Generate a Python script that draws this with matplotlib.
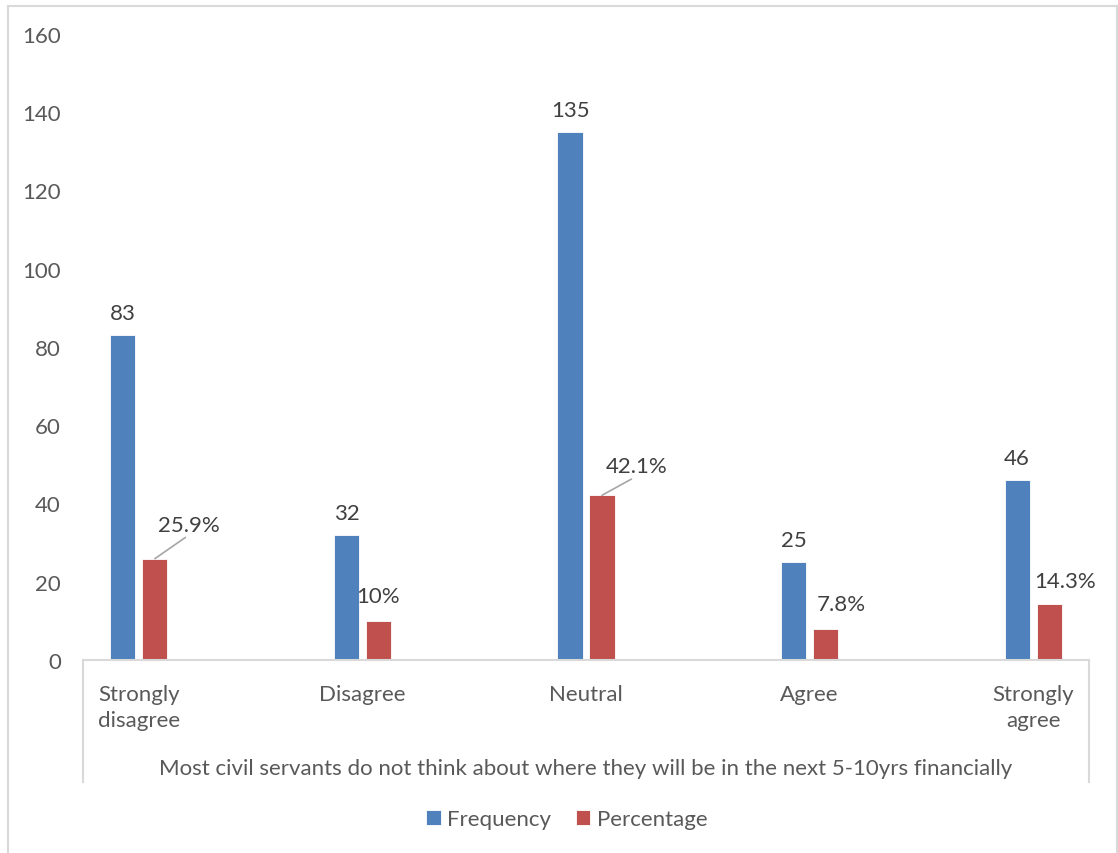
import matplotlib
matplotlib.use("Agg")
import matplotlib.pyplot as plt
from matplotlib.lines import Line2D
import numpy as np

plt.rcParams['font.family'] = ['Lato', 'DejaVu Sans']

categories = ["Strongly\ndisagree", "Disagree", "Neutral", "Agree", "Strongly\nagree"]
frequency = [83, 32, 135, 25, 46]
percentage = [25.9, 10, 42.1, 7.8, 14.3]
percentage_labels = ["25.9%", "10%", "42.1%", "7.8%", "14.3%"]
y_ticks = [0, 20, 40, 60, 80, 100, 120, 140, 160]
group_label = "Most civil servants do not think about where they will be in the next 5-10yrs financially"
series_names = ["Frequency", "Percentage"]

BLUE = "#4f81bd"
RED = "#c0504d"
TXT = "#595959"
DARK = "#404040"
GRID = "#d9d9d9"
FS = 16

W, H = 1118, 854
fig = plt.figure(figsize=(W / 100, H / 100), dpi=100)

# outer chart border (left, top, right; bottom is cut off)
bx0, bx1, by0 = 7.5 / W, 1116.5 / W, 1 - 6.5 / H
for xs, ys in (([bx0, bx0], [0, by0]), ([bx0, bx1], [by0, by0]), ([bx1, bx1], [by0, 0])):
    fig.add_artist(Line2D(xs, ys, transform=fig.transFigure, color=GRID, lw=1.5))

ax = fig.add_axes([83 / W, 1 - 661 / H, (1089 - 83) / W, (661 - 35) / H])
x = np.arange(len(categories))
bw = 0.112
off = 0.0715
b1 = ax.bar(x - off, frequency, bw, color=BLUE, edgecolor="white", linewidth=0.6, label=series_names[0])
b2 = ax.bar(x + off, percentage, bw, color=RED, edgecolor="white", linewidth=0.6, label=series_names[1])

ax.set_xlim(-0.25, 4.25)
ax.set_ylim(0, 160)
ax.set_yticks(y_ticks)
ax.set_yticklabels([str(v) for v in y_ticks], fontsize=FS, color=TXT)
ax.tick_params(axis='y', length=0, pad=16)
ax.set_xticks(x)
ax.set_xticklabels(categories, fontsize=FS, color=TXT, linespacing=1.4)
ax.tick_params(axis='x', length=0, pad=17)
for s in ["top", "right", "left"]:
    ax.spines[s].set_visible(False)
ax.spines["bottom"].set_color(GRID)
ax.spines["bottom"].set_linewidth(1.5)

# category box side lines
yb = -(783 - 661) / (661 - 35)
for xa in (0, 1):
    ax.add_line(Line2D([xa, xa], [0, yb], transform=ax.transAxes, color=GRID, lw=1.5, clip_on=False))
ax.text(0.5, -(769 - 661) / (661 - 35), group_label, transform=ax.transAxes,
        ha='center', va='center', fontsize=FS, color=TXT)

# frequency labels
for xi, v in zip(x, frequency):
    ax.annotate(str(v), (xi - off, v), xytext=(0, 22), textcoords='offset pixels',
                ha='center', va='center', fontsize=FS, color=DARK)

# percentage labels (offsets in pixels, with leader lines for first and third)
pct_offsets = [(34.5, 34), (0, 25), (34.5, 29), (16, 25), (15.5, 23)]
leader = [True, False, True, False, False]
for xi, v, lab, (dx, dy), ld in zip(x, percentage, percentage_labels, pct_offsets, leader):
    if ld:
        ax.annotate(lab, (xi + off, v), xytext=(dx, dy), textcoords='offset pixels',
                    ha='center', va='center', fontsize=FS, color=DARK,
                    arrowprops=dict(arrowstyle='-', color='#a6a6a6', lw=1.2,
                                    shrinkA=0, shrinkB=0,
                                    relpos=(0.5, 0.0)))
    else:
        ax.annotate(lab, (xi + off, v), xytext=(dx, dy), textcoords='offset pixels',
                    ha='center', va='center', fontsize=FS, color=DARK)

leg = fig.legend(handles=[b1, b2], labels=series_names, loc='center', bbox_to_anchor=(567 / W, 1 - 820 / H),
                 ncol=2, frameon=False, fontsize=FS, handlelength=0.65, handleheight=0.65,
                 handletextpad=0.3, columnspacing=1.1, labelcolor=TXT)

fig.savefig("out.png", dpi=100)
